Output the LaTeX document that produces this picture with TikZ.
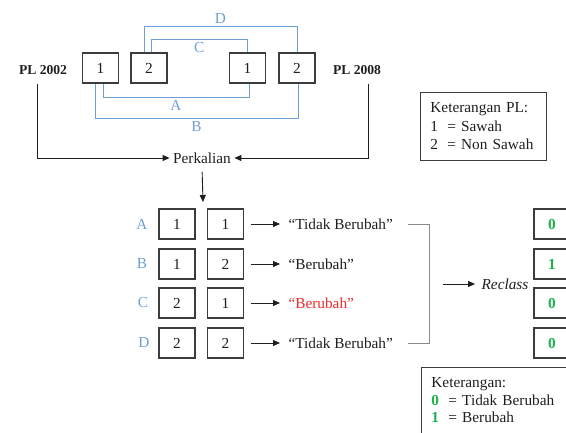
\documentclass[tikz,border=0pt]{standalone}
\usepackage{fontspec}
\setmainfont{Liberation Serif}
\usetikzlibrary{arrows.meta,positioning,calc}
\definecolor{ink}{HTML}{1E1E1E}
\definecolor{frame}{HTML}{3C3C3C}
\definecolor{pairblue}{HTML}{6E9FD6}
\definecolor{bracegray}{HTML}{8A8A8A}
\definecolor{alert}{HTML}{EE2B2B}
\definecolor{leaf}{HTML}{1DB04F}
\newcommand{\diafont}{\fontsize{15.3}{18.5}\selectfont}
\tikzset{
  cell/.style={draw=frame, line width=1.1pt, minimum width=36pt, minimum height=30pt,
    inner sep=0pt, font=\diafont, text=ink},
  bit/.style={cell, font=\diafont\bfseries, text=leaf},
  year/.style={font=\fontsize{13.6}{16}\selectfont\bfseries, text=ink},
  plab/.style={font=\diafont, text=pairblue, inner sep=2pt},
  rowlab/.style={font=\diafont, text=pairblue},
  result/.style={font=\diafont, text=ink, anchor=west},
  pair/.style={draw=pairblue, line width=1pt},
  flow/.style={-{Triangle[length=7pt,width=6pt]}, draw=ink, line width=.9pt},
  yields/.style={flow, shorten <=7pt, shorten >=5pt},
  brace/.style={draw=bracegray, line width=.9pt},
  legend/.style={draw=frame, line width=.9pt, font=\diafont, text=ink, align=left,
    inner xsep=10pt}
}

\begin{document}
\begin{tikzpicture}[x=1pt,y=1pt]
  \useasboundingbox (0,0) rectangle (566,432);
  \clip (0,0) rectangle (566,432);

  % land use pairs 2002 / 2008
  \node[year] (y02) at (43,362) {PL 2002};
  \node[year] (y08) at (357,362) {PL 2008};
  \node[cell] (p1) at (100.5,364) {1};
  \node[cell] (p2) at (149,364) {2};
  \node[cell] (q1) at (247.5,364) {1};
  \node[cell] (q2) at (297,364) {2};

  \draw[pair] ([xshift=-5pt]p2.north) -- ++(0,26) -| node[plab, above, pos=.25] {D} (q2.north);
  \draw[pair] ([xshift=2pt]p2.north) -- ++(0,13) -| node[plab, below, pos=.25] {C} (q1.north);
  \draw[pair] ([xshift=2.5pt]p1.south) -- ++(0,-14) -| node[plab, below, pos=.25] {A} ([xshift=1.5pt]q1.south);
  \draw[pair] ([xshift=-5.5pt]p1.south) -- ++(0,-35) -| node[plab, below, pos=.25] {B} ([xshift=1pt]q2.south);

  \node[font=\diafont, text=ink] (mul) at (202,274) {Perkalian};
  \draw[flow, shorten <=6pt] ([xshift=-6pt]y02.south) |- (mul.west);
  \draw[flow, shorten <=6pt] ([xshift=11pt]y08.south) |- (mul.east);
  \coordinate (split) at (203,230);
  \draw[flow, shorten <=5pt] (mul.south) -- (split);

  % combinations
  \node[rowlab] (la) at (142,208) {A};
  \node[cell] (a1) at (177,208) {1};
  \node[cell] (a2) at (225.5,208) {1};
  \node[result] (ra) at (285,208) {“Tidak Berubah”};
  \draw[yields] (a2) -- (ra);

  \node[rowlab] (lb) at (142,168) {B};
  \node[cell] (b1) at (177,168) {1};
  \node[cell] (b2) at (225.5,168) {2};
  \node[result] (rb) at (285,168) {“Berubah”};
  \draw[yields] (b2) -- (rb);

  \node[rowlab] (lc) at (143,129) {C};
  \node[cell] (c1) at (177,129) {2};
  \node[cell] (c2) at (225.5,129) {1};
  \node[result, text=alert] (rc) at (285,129) {“Berubah”};
  \draw[yields] (c2) -- (rc);

  \node[rowlab] (ld) at (144,89) {D};
  \node[cell] (d1) at (177,89) {2};
  \node[cell] (d2) at (225.5,89) {2};
  \node[result] (rd) at (285,89) {“Tidak Berubah”};
  \draw[yields] (d2) -- (rd);

  \draw[brace] ([xshift=12pt]ra.east) -- ++(21,0) |- ([xshift=12pt]rd.east);
  \coordinate (brk) at (433,148);
  \node[font=\diafont\itshape, text=ink] (recl) at (505,148) {Reclass};
  \draw[flow, shorten <=10pt, shorten >=3pt] (brk) -- (recl);

  % reclassified values
  \node[bit] (v0) at (552,208) {0};
  \node[bit] (v1) at (552,168) {1};
  \node[bit] (v2) at (552,129) {0};
  \node[bit] (v3) at (552,89) {0};

  % legends
  \node[legend, anchor=north west, text width=106pt, minimum height=68pt] (keypl) at (420,340)
    {Keterangan PL:\\\makebox[17pt][l]{1}= Sawah\\\makebox[17pt][l]{2}= Non Sawah};
  \node[legend, anchor=north west, text width=150pt, inner ysep=10.5pt] (keybit) at (421,65)
    {\fontsize{15.3}{17.3}\selectfont Keterangan:\\\makebox[17pt][l]{\textcolor{leaf}{\bfseries 0}}= Tidak Berubah\\\makebox[17pt][l]{\textcolor{leaf}{\bfseries 1}}= Berubah\\ };
\end{tikzpicture}
\end{document}
